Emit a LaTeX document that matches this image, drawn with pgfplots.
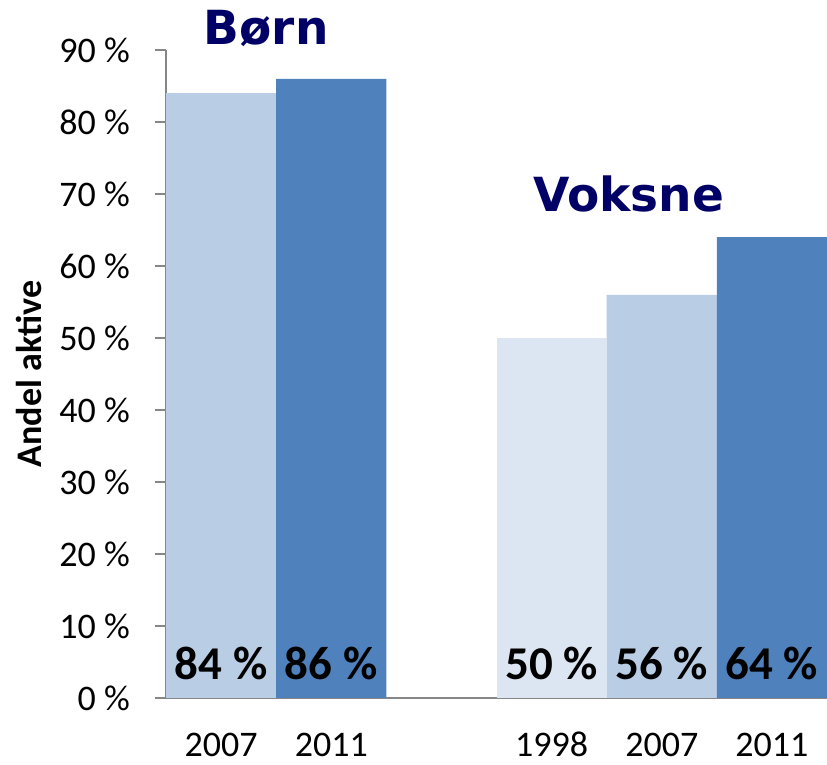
\documentclass[border=0pt]{standalone}
\usepackage{pgfplots}
\pgfplotsset{compat=1.18}
\usepackage{fontspec}
\setmainfont{Carlito}
\newfontfamily\titlefont{DejaVu Sans}
\definecolor{barA}{HTML}{B9CDE5}
\definecolor{barB}{HTML}{4F81BD}
\definecolor{barC}{HTML}{DCE6F2}
\definecolor{navy}{HTML}{000066}
\definecolor{axgray}{HTML}{868686}
\tikzset{
  barlab/.style={font=\fontsize{47}{50}\selectfont\bfseries, inner sep=0pt},
  ttl/.style={font=\titlefont\bfseries\fontsize{47}{50}\selectfont, text=navy, inner sep=0pt},
}
\begin{document}
\begin{tikzpicture}
\path[use as bounding box] (0,0) rectangle (827pt,765pt);
\begin{axis}[
  at={(166pt,67pt)}, anchor=south west,
  scale only axis, width=661pt, height=648pt,
  xmin=-0.5, xmax=5.5, ymin=0, ymax=90,
  axis x line*=bottom, axis y line*=left,
  axis line style={axgray, line width=1.5pt},
  clip=false,
  /pgf/number format/assume math mode=true,
  ytick={0,10,20,30,40,50,60,70,80,90},
  yticklabels={0 \%,10 \%,20 \%,30 \%,40 \%,50 \%,60 \%,70 \%,80 \%,90 \%},
  xtick={0,1,3,4,5},
  xticklabels={2007,2011,1998,2007,2011},
  tick align=outside,
  major tick length=11pt,
  y tick style={axgray, line width=1.5pt},
  x tick style={draw=none},
  ticklabel style={font=\fontsize{36}{40}\selectfont, inner sep=0pt},
  yticklabel style={xshift=-25pt},
  xticklabel style={anchor=north, text height=23pt, text depth=0pt, yshift=-24pt},
  ylabel={Andel aktive},
  every axis y label/.style={at={(axis description cs:0,0.5)}, rotate=90, anchor=center, yshift=137pt, inner sep=0pt, font=\fontsize{36}{40}\selectfont\bfseries},
]
\addplot[ybar, bar width=1, bar shift=0pt, fill=barA, draw=none] coordinates {(0,84) (4,56)};
\addplot[ybar, bar width=1, bar shift=0pt, fill=barB, draw=none] coordinates {(1,86) (5,64)};
\addplot[ybar, bar width=1, bar shift=0pt, fill=barC, draw=none] coordinates {(3,50)};
\node[barlab] at (axis cs:0,4.86) {84 \%};
\node[barlab] at (axis cs:1,4.86) {86 \%};
\node[barlab] at (axis cs:3,4.86) {50 \%};
\node[barlab] at (axis cs:4,4.86) {56 \%};
\node[barlab] at (axis cs:5,4.86) {64 \%};
\node[ttl] at (axis cs:0.41,93.06) {Børn};
\node[ttl] at (axis cs:3.70,70.0) {Voksne};
\end{axis}
\end{tikzpicture}
\end{document}
